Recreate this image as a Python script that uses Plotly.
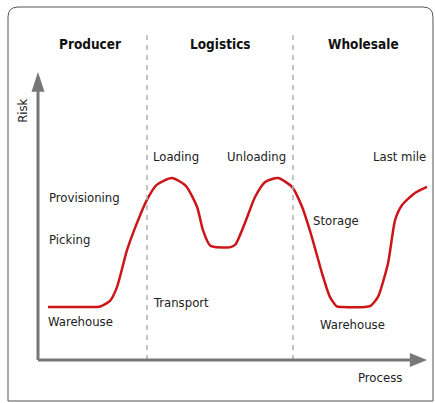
import plotly.graph_objects as go

# Risk curve along the process (process position, risk level)
process = [0.257, 1.40, 1.60, 1.85, 2.03, 2.29, 2.545, 2.80, 3.05, 3.44, 3.80, 4.09, 4.24, 4.42, 4.55,
           4.95, 5.08, 5.32, 5.58, 5.84, 6.17, 6.53, 6.79, 7.04, 7.30, 7.50, 7.68, 7.80,
           8.40, 8.55, 8.74, 9.00, 9.18, 9.36, 9.69, 10.0]
risk = [1.84, 1.84, 1.86, 2.05, 2.53, 3.82, 4.76, 5.56, 6.08, 6.32, 6.05, 5.31, 4.51, 3.98, 3.92,
        3.92, 4.02, 4.76, 5.66, 6.18, 6.32, 6.01, 5.31, 4.27, 3.02, 2.20, 1.86, 1.84,
        1.84, 1.88, 2.19, 3.37, 4.86, 5.38, 5.80, 6.01]

# Stage boundaries and headers
stage_names = ["Producer", "Logistics", "Wholesale"]
stage_centers = [1.337, 4.679, 8.38]
stage_bounds = [2.802, 6.555]

# Step labels: text, x, y, anchor
step_labels = ["Loading", "Unloading", "Last mile", "Provisioning", "Picking", "Transport",
               "Warehouse", "Storage", "Warehouse"]
step_x = [2.90, 4.80, 10.03, 0.23, 0.23, 2.90, 0.20, 7.02, 7.20]
step_y = [7.05, 7.05, 7.05, 5.64, 4.20, 2.01, 1.33, 4.84, 1.22]
step_anchor = ["left", "left", "right", "left", "left", "left", "left", "left", "left"]

FONT = "DejaVu Sans Condensed, Liberation Sans Narrow, Roboto, sans-serif"
TXT = "#222222"
AXC = "#777777"

fig = go.Figure()
fig.add_trace(go.Scatter(x=process, y=risk, mode="lines",
                         line=dict(color="#cc1519", width=2.5, shape="spline", smoothing=0.6),
                         hoverinfo="skip", showlegend=False))

shapes = []
# rounded frame
shapes.append(dict(type="path", xref="paper", yref="paper",
                   path="M 0.0414,0.9826 L 0.9724,0.9826 Q 0.9954,0.9826 0.9954,0.9578 L 0.9954,0.0050 "
                        "L 0.0184,0.0050 L 0.0184,0.9578 Q 0.0184,0.9826 0.0414,0.9826 Z",
                   line=dict(color="#555555", width=1)))
# dividers
for b in stage_bounds:
    shapes.append(dict(type="line", x0=b, x1=b, y0=0, y1=11.28,
                       line=dict(color="#b0b0b0", width=1.5, dash="5px,5px")))
# axes
shapes.append(dict(type="line", x0=0, x1=0, y0=0, y1=9.4, line=dict(color=AXC, width=3)))
shapes.append(dict(type="line", x0=0, x1=9.6, y0=0, y1=0, line=dict(color=AXC, width=3)))
shapes.append(dict(type="path", path="M -0.167,9.31 L 0.167,9.31 L 0,10 Z",
                   fillcolor=AXC, line=dict(color=AXC, width=0)))
shapes.append(dict(type="path", path="M 9.56,-0.24 L 9.56,0.24 L 10,0 Z",
                   fillcolor=AXC, line=dict(color=AXC, width=0)))

annotations = []
for name, cx in zip(stage_names, stage_centers):
    annotations.append(dict(x=cx, y=10.98, text="<b>%s</b>" % name, showarrow=False,
                            xanchor="center", yanchor="middle",
                            font=dict(family=FONT, size=13.5, color="#111111")))
for t, x, y, a in zip(step_labels, step_x, step_y, step_anchor):
    annotations.append(dict(x=x, y=y, text=t, showarrow=False, xanchor=a, yanchor="middle",
                            font=dict(family=FONT, size=13, color=TXT)))
annotations.append(dict(x=8.18, y=-0.61, text="Process", showarrow=False, xanchor="left",
                        yanchor="middle", font=dict(family=FONT, size=13, color=TXT)))
annotations.append(dict(x=-0.386, y=8.65, text="Risk", showarrow=False, textangle=-90,
                        xanchor="center", yanchor="middle", font=dict(family=FONT, size=13, color=TXT)))

fig.update_layout(width=435, height=403, margin=dict(l=0, r=0, t=0, b=0),
                  paper_bgcolor="white", plot_bgcolor="white",
                  xaxis=dict(range=[-0.977, 10.206], visible=False, fixedrange=True),
                  yaxis=dict(range=[-1.493, 12.5], visible=False, fixedrange=True),
                  shapes=shapes, annotations=annotations, showlegend=False)

fig.write_html("out.html", config={"displayModeBar": False},
               post_script="document.body.style.margin='0';")
